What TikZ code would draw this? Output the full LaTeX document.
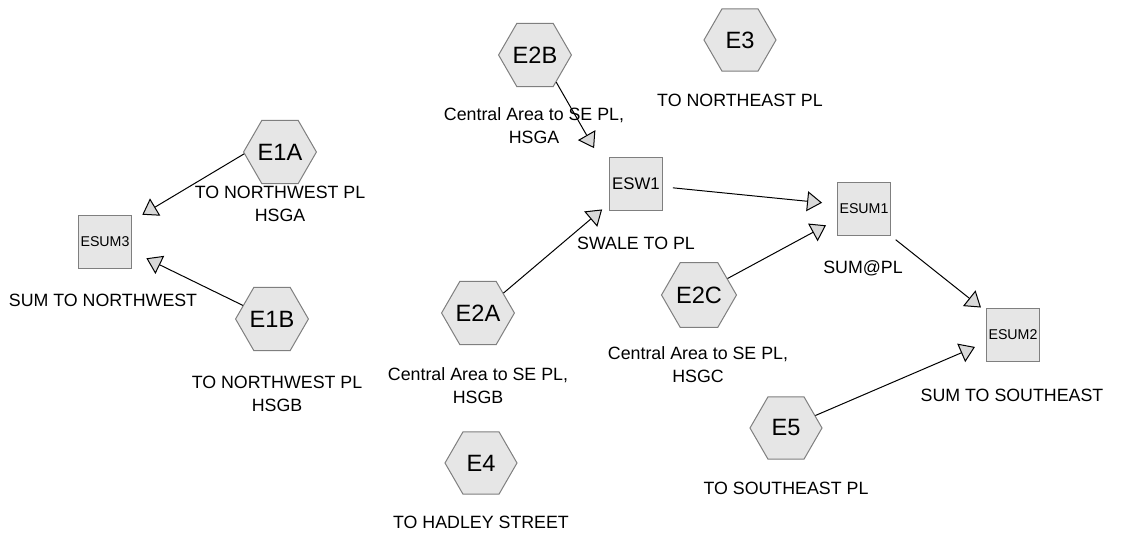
\documentclass[tikz,border=0pt]{standalone}
\usepackage{fontspec}
\setmainfont{Liberation Sans}
\usetikzlibrary{shapes.geometric,arrows.meta}
\definecolor{nodefill}{HTML}{E6E6E6}
\definecolor{nodeline}{HTML}{7F7F7F}
\definecolor{tipfill}{HTML}{D9D9D9}
\tikzset{
  hexnode/.style={regular polygon, regular polygon sides=6, minimum size=36pt, inner sep=0pt,
    draw=nodeline, fill=nodefill, line width=0.5pt, font=\fontsize{11.8}{13}\selectfont},
  boxnode/.style={rectangle, minimum size=26.5pt, inner sep=0pt, draw=nodeline, fill=nodefill,
    line width=0.5pt, font=\fontsize{7.1}{8}\selectfont},
  boxbig/.style={boxnode, font=\fontsize{8.4}{9}\selectfont},
  lbl/.style={align=center, inner sep=0pt, font=\fontsize{8.9}{11.5}\selectfont},
  conn/.style={draw=black, line width=0.5pt, -{Triangle[length=7.5pt, width=10pt, fill=tipfill, line width=0.5pt]}}
}
\begin{document}
\begin{tikzpicture}[x=0.5pt, y=-0.5pt]
\useasboundingbox (0,0) rectangle (1132,533);
% nodes
\node[hexnode] (e1a) at (280,152) {E1A};
\node[hexnode] (e1b) at (272,319) {E1B};
\node[boxnode] (esum3) at (105,242) {ESUM3};
\node[hexnode] (e2b) at (535,55) {E2B};
\node[hexnode] (e3) at (740,40) {E3};
\node[boxbig] (esw1) at (636,184) {ESW1};
\node[boxnode] (esum1) at (864,209) {ESUM1};
\node[boxnode] (esum2) at (1013,335) {ESUM2};
\node[hexnode] (e2a) at (478,313) {E2A};
\node[hexnode] (e2c) at (699,295) {E2C};
\node[hexnode] (e4) at (481,463) {E4};
\node[hexnode] (e5) at (786,428) {E5};
% labels
\node[lbl] (l1a) at (280,204) {TO NORTHWEST PL\\HSGA};
\node[lbl] (l3s) at (103,300) {SUM TO NORTHWEST};
\node[lbl] (l1b) at (277,394) {TO NORTHWEST PL\\HSGB};
\node[lbl] (l2b) at (534,126) {Central Area to SE PL,\\HSGA};
\node[lbl] (l3) at (740,100) {TO NORTHEAST PL};
\node[lbl] (lsw) at (636,243) {SWALE TO PL};
\node[lbl] (ls1) at (863,268) {SUM@PL};
\node[lbl] (l2a) at (478,386) {Central Area to SE PL,\\HSGB};
\node[lbl] (l2c) at (698,365) {Central Area to SE PL,\\HSGC};
\node[lbl] (ls2) at (1012,395) {SUM TO SOUTHEAST};
\node[lbl] (l5) at (786,488) {TO SOUTHEAST PL};
\node[lbl] (l4) at (481,522) {TO HADLEY STREET};
% connectors
\draw[conn, shorten >=6pt] (e1a.183) -- (esum3.38);
\draw[conn, shorten >=8pt] (e1b.155) -- (esum3.-19);
\draw[conn, shorten >=15pt] (e2b.-52) -- (esw1.160);
\draw[conn, shorten >=4.5pt] (e2a.38) -- (esw1.216);
\draw[conn, shorten <=5pt, shorten >=7.5pt] (esw1.-6) -- (esum1.170);
\draw[conn, shorten >=6.25pt] (e2c.30) -- (esum1.201);
\draw[conn, shorten <=3pt, shorten >=3.2pt] (esum1.south east) -- (esum2.139);
\draw[conn, shorten >=6pt] (e5.23) -- (esum2.195);
\end{tikzpicture}
\end{document}
